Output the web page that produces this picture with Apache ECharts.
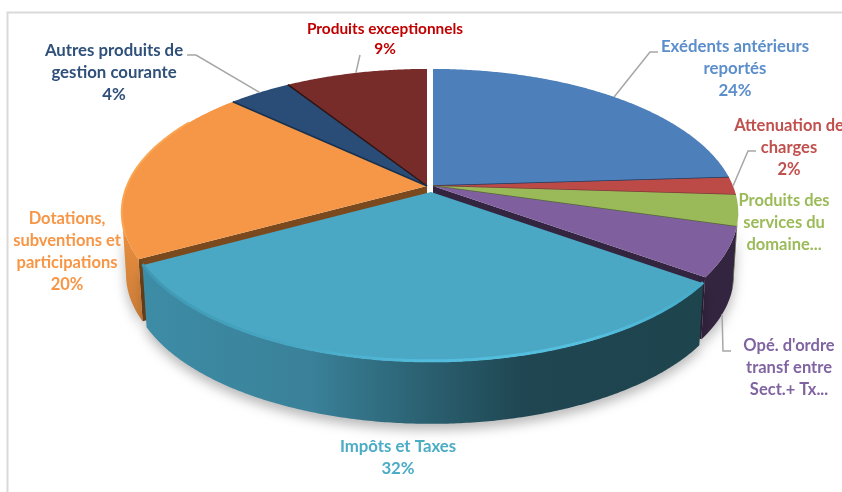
<!DOCTYPE html>
<html>
<head>
<meta charset="utf-8">
<title>Recettes</title>
<script src="https://cdn.jsdelivr.net/npm/echarts@6/dist/echarts.min.js"></script>
<style>
html, body { margin: 0; padding: 0; background: #fff; }
#main { width: 842px; height: 492px; }
</style>
</head>
<body>
<div id="main"></div>
<script>
// parts du budget (les deux parts sans % sont estimees)
var sliceNames = ["Exédents antérieurs\nreportés", "Attenuation de\ncharges", "Produits des\nservices du\ndomaine...", "Opé. d'ordre\ntransf entre\nSect.+ Tx...", "Impôts et Taxes", "Dotations,\nsubventions et\nparticipations", "Autres produits de\ngestion courante", "Produits exceptionnels"];
var sliceValues = [24, 2, 3.5, 5.5, 32, 20, 4, 9];
var sliceLabels = ["24%", "2%", "", "", "32%", "20%", "4%", "9%"];

// styles
var topColors = ["#4d7fba", "#bc4b48", "#9aba59", "#7f5f9e", "#4aa8c4", "#f59746", "#2a4d78", "#772c2a"];
var wallColors = ["#2f4f75", "#7a2f2d", "#5f7537", "#33243f", "#1f4651", "#d3823a", "#1a3049", "#4a1b1a"];
var edgeColors = ["#1d3a5c", "#7a3a38", "#55683a", null, null, "#16304f", "#2e1312", null];
var textColors = ["#5b8ecb", "#c0504d", "#9bbb59", "#8064a2", "#4bacc6", "#f79646", "#2f5079", "#c00000"];
var textSizes = [16.8, 16.5, 16.5, 16.5, 16.8, 16.5, 16.8, 15.4];
var textLeading = [22, 22, 22, 22, 22, 22, 22, 20];
var drawOrder = [0, 1, 2, 6, 7, 5, 4, 3];   // arriere vers avant, z2 par part
var cutFace = [null, null, null, "to", null, "from", null, null];   // faces visibles a cote de la part eclatee

// decalage de chaque part (eclatement)
var sliceShift = [[0, 0], [0, 0], [0, 0], [0, 0], [-2, 6], [-6, 0], [-6, 0], [-6, 0]];

// position du texte et coude du trait de rappel
var labelPos = [[735, 69], [789, 147.5], [784, 222.5], [789, 368], [398, 458], [67, 252], [114, 73], [385, 39.5]];
var leaderBend = [[[650, 52], [658, 52]], [[748, 151], [756, 151]], null, [[723, 351], [731, 351]], null, null, [[196, 55], [187, 55]], [[360, 55]]];

var CX = 433, CY = 186, RX = 300, RY = 138.6, PERSP = 0.184, DEPTH = 62, LOW_SCALE = 0.986;
var WALL_FROM = 100.6, WALL_TO = 259.4;

var total = sliceValues.reduce(function(a, b) { return a + b; }, 0);
var startAngles = [];
var acc = 0;
for (var k = 0; k < sliceValues.length; k++) {
    startAngles.push(acc / total * 360);
    acc += sliceValues[k];
}

// cercle vu en perspective, angle compte depuis midi
function project(deg, shift, dz) {
    var a = deg * Math.PI / 180;
    var s = 1 / (1 + PERSP * Math.cos(a));
    var xs = dz ? LOW_SCALE : 1;    // le bas de la paroi est un peu plus etroit
    return [
        CX + shift[0] + RX * xs * Math.sin(a) * s,
        CY + shift[1] - RY * Math.cos(a) * s + (dz || 0)
    ];
}

function arcPoints(from, to, shift, dz) {
    var pts = [];
    var n = Math.max(2, Math.ceil((to - from) * 2));
    for (var i = 0; i <= n; i++) {
        pts.push(project(from + (to - from) * i / n, shift, dz));
    }
    return pts;
}

function wallFill(i) {
    if (i == 4) {
        return new echarts.graphic.LinearGradient(0, 0, 1, 0, [
            { offset: 0, color: "#3d8ca6" },
            { offset: 0.3, color: "#3a8199" },
            { offset: 0.5, color: "#2b6172" },
            { offset: 0.68, color: "#1f4651" },
            { offset: 1, color: "#1e444e" }
        ]);
    }
    if (i == 5) {
        return new echarts.graphic.LinearGradient(0, 0, 0, 1, [
            { offset: 0, color: "#ee9140" },
            { offset: 1, color: "#c97c38" }
        ]);
    }
    return wallColors[i];
}

function renderSlice(params, api) {
    var i = params.dataIndex;
    var from = startAngles[i];
    var to = from + api.value(0) / total * 360;
    var shift = sliceShift[i];
    var base = drawOrder[i] * 10;
    var children = [];
    var apex = [CX + shift[0], CY + shift[1]];
    var apexLow = [apex[0], apex[1] + DEPTH];

    // face de coupe
    if (cutFace[i]) {
        var deg = cutFace[i] == "to" ? to : from;
        children.push({
            type: "polygon",
            z2: base,
            shape: { points: [apex, project(deg, shift), project(deg, shift, DEPTH), apexLow] },
            style: { fill: i == 5 ? "#7a4a1e" : wallColors[i] }
        });
    }

    // paroi exterieure
    var wFrom = Math.max(from, WALL_FROM);
    var wTo = Math.min(to, WALL_TO);
    if (wTo > wFrom) {
        var upper = arcPoints(wFrom, wTo, shift);
        var lower = arcPoints(wFrom, wTo, shift, DEPTH).reverse();
        children.push({
            type: "polygon",
            z2: base + 1,
            shape: { points: upper.concat(lower) },
            style: {
                fill: wallFill(i),
                shadowColor: "rgba(0,0,0,0.28)",
                shadowBlur: 12,
                shadowOffsetY: 6
            }
        });
    }

    // dessus
    children.push({
        type: "polygon",
        z2: base + 2,
        shape: { points: [apex].concat(arcPoints(from, to, shift)) },
        style: { fill: topColors[i] }
    });

    if (edgeColors[i]) {
        children.push({
            type: "line",
            z2: base + 3,
            shape: { x1: apex[0], y1: apex[1], x2: project(to, shift)[0], y2: project(to, shift)[1] },
            style: { stroke: edgeColors[i], lineWidth: 1.5 }
        });
    }

    // lisere clair sur le bord avant
    if (i == 4) {
        children.push({
            type: "polyline",
            z2: base + 3,
            shape: { points: arcPoints(from, to, [shift[0], shift[1] - 1]) },
            style: {
                fill: "none",
                lineWidth: 3,
                stroke: new echarts.graphic.LinearGradient(1, 0, 0, 0, [
                    { offset: 0, color: "#45a9c8" },
                    { offset: 0.2, color: "#55c0e0" },
                    { offset: 0.5, color: "#53bcdc" },
                    { offset: 0.75, color: "#46a6c2" },
                    { offset: 1, color: "#3f98b3" }
                ])
            }
        });
    }
    if (i == 5) {
        children.push({
            type: "polyline",
            z2: base + 3,
            shape: { points: arcPoints(Math.max(from, 250), 300, shift) },
            style: { fill: "none", stroke: "#fba552", lineWidth: 2 }
        });
    }

    // trait de rappel, part du milieu de la tranche
    if (leaderBend[i]) {
        var mid = (from + to) / 2;
        var low = mid > WALL_FROM && mid < WALL_TO;
        children.push({
            type: "polyline",
            z2: 200,
            shape: { points: [project(mid, shift, low ? DEPTH : 0)].concat(leaderBend[i]) },
            style: { fill: "none", stroke: "#a6a6a6", lineWidth: 1.5 }
        });
    }

    var text = sliceNames[i] + (sliceLabels[i] ? "\n" + sliceLabels[i] : "");
    children.push({
        type: "text",
        z2: 300,
        style: {
            text: text,
            x: labelPos[i][0],
            y: labelPos[i][1],
            fill: textColors[i],
            font: "bold " + textSizes[i] + "px Lato",
            align: "center",
            verticalAlign: "middle",
            lineHeight: textLeading[i]
        }
    });

    return { type: "group", children: children };
}

var myChart = echarts.init(document.getElementById("main"), null, { renderer: "canvas" });

myChart.setOption({
    animation: false,
    backgroundColor: "#fff",
    graphic: [
        {
            type: "polyline",
            silent: true,
            shape: { points: [[7.5, 492], [7.5, 12.5], [842, 12.5]] },
            style: { fill: "none", stroke: "#d9d9d9", lineWidth: 2 }
        }
    ],
    series: [
        {
            type: "custom",
            coordinateSystem: "none",
            silent: true,
            renderItem: renderSlice,
            data: sliceValues
        }
    ]
});
</script>
</body>
</html>
